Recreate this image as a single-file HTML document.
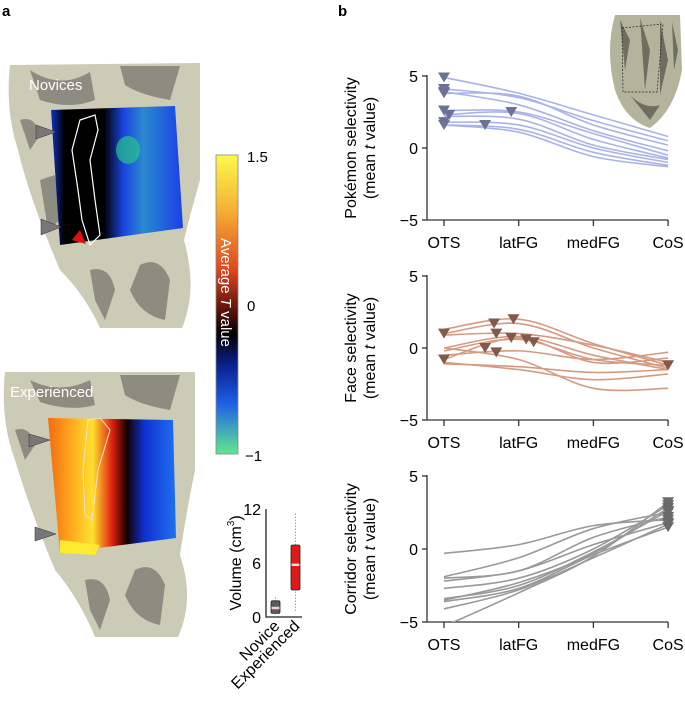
<!DOCTYPE html>
<html><head><meta charset="utf-8"><style>
html,body{margin:0;padding:0;background:#fff;}
svg{display:block;font-family:"Liberation Sans",Arial,sans-serif;}
</style></head><body>
<svg id="fig" width="685" height="710" viewBox="0 0 685 710" xmlns="http://www.w3.org/2000/svg">
<defs>
<linearGradient id="cbar" x1="0" y1="0" x2="0" y2="1">
<stop offset="0" stop-color="#fdf94a"/><stop offset="0.18" stop-color="#f6b236"/><stop offset="0.38" stop-color="#e2481e"/><stop offset="0.52" stop-color="#5a120a"/><stop offset="0.6" stop-color="#000"/><stop offset="0.7" stop-color="#0a1f8a"/><stop offset="0.83" stop-color="#1f5ee6"/><stop offset="1" stop-color="#5fe890"/>
</linearGradient>
<linearGradient id="nov" x1="0" y1="0" x2="1" y2="0">
<stop offset="0" stop-color="#1230c8"/><stop offset="0.1" stop-color="#000"/><stop offset="0.4" stop-color="#000"/><stop offset="0.55" stop-color="#1a44e0"/><stop offset="0.7" stop-color="#2a8ad0"/><stop offset="1" stop-color="#1a40e8"/>
</linearGradient>
<linearGradient id="exp" x1="0" y1="0" x2="1" y2="0">
<stop offset="0" stop-color="#f56a10"/><stop offset="0.2" stop-color="#ffb020"/><stop offset="0.35" stop-color="#ffe030"/><stop offset="0.5" stop-color="#e02010"/><stop offset="0.62" stop-color="#100000"/><stop offset="0.75" stop-color="#1030d0"/><stop offset="1" stop-color="#2070f0"/>
</linearGradient>
<clipPath id="c1"><rect x="427" y="60" width="260" height="162"/></clipPath>
<clipPath id="c2"><rect x="427" y="260" width="260" height="161"/></clipPath>
<clipPath id="c3"><rect x="427" y="460" width="260" height="162"/></clipPath>
</defs>
<text x="2" y="16" font-size="15" font-weight="bold">a</text>
<text x="338" y="16" font-size="15" font-weight="bold">b</text>

<!-- Novice brain -->
<g>
<path d="M10,65 L200,63 L200,180 Q190,215 184,240 Q198,290 182,328 L100,328 Q85,295 60,270 Q30,200 18,150 Q5,110 10,65 Z" fill="#cbcbb6"/>
<path d="M30,70 Q60,90 90,72 L95,100 Q70,110 40,100 Z M120,66 L180,66 L170,100 Q140,95 125,85 Z M140,265 Q160,255 170,280 L165,320 Q140,315 130,290 Z M90,270 Q110,265 115,290 L105,320 L95,300 Z M20,120 Q35,115 40,135 L30,150 Z M40,180 L55,175 L60,220 L48,230 Z" fill="#8c8c80"/>
<path d="M51,110 L175,106 L183,228 L60,245 Z" fill="url(#nov)"/>
<ellipse cx="128" cy="150" rx="12" ry="14" fill="#27c48a" opacity="0.7"/>
<path d="M72,240 L80,230 L86,244 Z" fill="#e21010"/>
<path d="M80,120 L95,115 L98,130 L90,160 L95,200 L100,235 L90,245 L82,220 L78,190 L72,150 Z" fill="none" stroke="#fff" stroke-width="1.2"/>
<text x="29" y="90" font-size="15" fill="#fff">Novices</text>
<polygon points="36,125 56,132 36,139" fill="#777" stroke="#333" stroke-width="0.5"/>
<polygon points="41,219 61,227 41,235" fill="#777" stroke="#333" stroke-width="0.5"/>
</g>
<!-- Experienced brain -->
<g>
<path d="M5,372 L195,372 L195,470 Q185,520 180,555 Q195,600 178,637 L95,637 Q80,600 55,570 Q30,510 15,460 Q0,420 5,372 Z" fill="#cbcbb6"/>
<path d="M30,380 Q60,395 90,380 L95,405 Q70,412 40,402 Z M120,375 L180,375 L170,410 Q140,405 125,395 Z M135,570 Q155,560 165,585 L160,625 Q135,620 125,595 Z M85,580 Q105,575 110,600 L100,630 L90,610 Z M15,430 Q30,425 35,445 L25,460 Z" fill="#8c8c80"/>
<path d="M48,418 L173,420 L176,538 L60,553 Z" fill="url(#exp)"/>
<path d="M60,540 L100,545 L95,555 L60,553 Z" fill="#ffea30"/>
<path d="M88,420 L100,418 L110,430 L98,470 L92,520 L85,515 L83,470 Z" fill="none" stroke="#f4e0d0" stroke-width="1"/>
<text x="10" y="397" font-size="15" fill="#fff">Experienced</text>
<polygon points="29,434 50,440 29,447" fill="#777" stroke="#333" stroke-width="0.5"/>
<polygon points="35,527 56,534 35,541" fill="#777" stroke="#333" stroke-width="0.5"/>
</g>
<!-- colorbar -->
<g>
<rect x="216" y="155" width="22" height="299" fill="url(#cbar)" stroke="#888" stroke-width="0.8"/>
<text x="247" y="162" font-size="15">1.5</text>
<text x="247" y="311" font-size="15">0</text>
<text x="245" y="461" font-size="15">−1</text>
<text transform="translate(221,238) rotate(90)" font-size="15" fill="#fff">Average <tspan font-style="italic">T</tspan> value</text>
</g>
<!-- volume boxplot -->
<g id="box"></g>

<g id="charts"></g>

<!-- inset brain -->
<g>
<path d="M615,15 L680,15 L682,70 Q675,110 650,128 Q625,120 615,90 Q605,50 615,15 Z" fill="#b4b49c"/>
<path d="M620,20 L630,40 L625,70 Z M640,18 L650,50 L645,90 Z M660,20 L668,60 L660,95 Z M672,22 L678,50 L674,70 Z M630,95 Q645,110 660,105 L650,120 Z" fill="#6e6e60"/>
<path d="M622,28 L663,24 L657,92 L623,92 Z" fill="none" stroke="#222" stroke-width="0.7" stroke-dasharray="2,1.5"/>
</g>
<script>
// Pokémon selectivity
var regions = ["OTS","latFG","medFG","CoS"];
var yTicks = [5,0,-5];
var pokeLines = [[4.9,3.8,2.3,0.8],[4.1,3.5,1.9,0.5],[3.8,3.6,1.6,0.2],[3.9,3.0,1.2,-0.2],[2.6,2.5,1.0,-0.5],[2.3,2.4,0.6,-0.7],[2.2,2.0,0.2,-0.8],[1.8,1.6,0.0,-1.0],[1.6,1.3,-0.3,-1.2],[1.6,1.1,-0.6,-1.3]];
var pokeMarkX = [0,0,0,0,0,0.07,0.9,0,0,0.55];
var pokeMarkY = [4.9,4.1,3.8,3.9,2.6,2.3,2.5,1.8,1.6,1.6];
// Face selectivity
var faceLines = [[1.3,2.0,0.3,-1.2],[1.0,1.7,0.0,-1.4],[0.9,1.0,0.2,-1.0],[0.0,0.8,-0.5,-1.5],[-0.2,0.6,-0.8,-1.2],[-0.5,-0.2,-0.8,-0.3],[-0.8,0.7,-1.0,-0.7],[-1.1,-1.3,-1.7,-1.5],[-1.0,-1.5,-2.2,-1.8],[0.0,-0.8,-2.8,-2.8]];
var faceMarkX = [0,0,0.67,0.7,0.93,0.9,1.1,1.2,0.55,0.7,3];
var faceMarkY = [1.0,-0.8,1.7,1.0,2.0,0.7,0.6,0.4,0.0,-0.3,-1.2];
// Corridor selectivity
var corrLines = [[-0.3,0.3,1.6,2.0],[-1.9,-0.6,1.4,2.5],[-2.0,-1.5,0.8,2.2],[-2.2,-1.5,0.3,1.8],[-2.7,-2.0,0.0,3.0],[-3.5,-2.3,-0.3,2.8],[-3.6,-2.7,-0.4,1.5],[-4.1,-2.8,-0.6,1.7],[-3.4,-2.5,-0.2,2.6],[-5.3,-3.0,-0.5,3.2]];
var corrMarkX = [3,3,3,3,3,3,3,3,3,3];
var corrMarkY = [2.0,2.5,2.2,1.8,3.0,2.8,1.5,1.7,2.6,3.2];
// Volume boxplot
var boxGroups = ["Novice","Experienced"];
var boxQ1 = [0.4,3.0];
var boxMed = [1.0,5.8];
var boxQ3 = [1.8,8.0];
var boxMin = [0.3,0.5];
var boxMax = [2.2,11.5];
var boxTicks = [0,6,12];

var NS="http://www.w3.org/2000/svg";
function mk(tag,attrs,parent){var e=document.createElementNS(NS,tag);for(var k in attrs)e.setAttribute(k,attrs[k]);parent.appendChild(e);return e;}
function ts(parent,txt,attrs){var t=mk('tspan',attrs||{},parent);t.textContent=txt;return t;}
var charts=document.getElementById('charts');
var panels=[
 {lines:pokeLines,mx:pokeMarkX,my:pokeMarkY,y5:76,y0:148,lc:"#a9b3e8",mc:"#6c7196",clip:"c1",t1:"Pokémon selectivity",name:"pokemon"},
 {lines:faceLines,mx:faceMarkX,my:faceMarkY,y5:276,y0:348,lc:"#d59b82",mc:"#84584a",clip:"c2",t1:"Face selectivity",name:"face"},
 {lines:corrLines,mx:corrMarkX,my:corrMarkY,y5:476,y0:549,lc:"#999999",mc:"#6a6a6a",clip:"c3",t1:"Corridor selectivity",name:"corridor"}];
var x0=444,dx=74.7,axX=427;
panels.forEach(function(p){
 var g=mk('g',{},charts);
 
 
 var sy=function(v){return p.y0-(v/5)*(p.y0-p.y5);};
 var sx=function(i){return x0+i*dx;};
 var ym=sy(-5);
 var ax=mk('path',{d:'M'+axX+','+(p.y5-1)+' V'+ym+' H'+(sx(3)),fill:'none',stroke:'#333','stroke-width':1.3},g);
 
 
 yTicks.forEach(function(t){
  mk('line',{x1:axX-5,x2:axX,y1:sy(t),y2:sy(t),stroke:'#333','stroke-width':1.3},g);
  var tx=mk('text',{x:axX-9,y:sy(t)+6,'font-size':16,'text-anchor':'end'},g);
  tx.textContent=t<0?'−'+(-t):String(t);
  
  
 });
 regions.forEach(function(r,i){
  mk('line',{x1:sx(i),x2:sx(i),y1:ym,y2:ym+6,stroke:'#333','stroke-width':1.3},g);
  var tx=mk('text',{x:sx(i),y:ym+28,'font-size':16,'text-anchor':'middle'},g);
  tx.textContent=r;
  
  
 });
 var cy=(p.y5+ym)/2;
 var t1=mk('text',{transform:'translate(356,'+cy+') rotate(-90)','font-size':16,'text-anchor':'middle'},g);
 t1.textContent=p.t1;
 
 
 var t2=mk('text',{transform:'translate(375,'+cy+') rotate(-90)','font-size':16,'text-anchor':'middle'},g);
 ts(t2,'(mean ');ts(t2,'t',{'font-style':'italic'});ts(t2,' value)');
 
 
 var lg=mk('g',{'clip-path':'url(#'+p.clip+')'},g);
 p.lines.forEach(function(v){
  var pts=v.map(function(val,i){return [sx(i),sy(val)];});
  var d='M'+pts[0][0]+','+pts[0][1];
  for(var i=0;i<3;i++){
   var pa=pts[Math.max(i-1,0)],pb=pts[i],pc=pts[i+1],pd=pts[Math.min(i+2,3)];
   var c1x=pb[0]+(pc[0]-pa[0])/6,c1y=pb[1]+(pc[1]-pa[1])/6,c2x=pc[0]-(pd[0]-pb[0])/6,c2y=pc[1]-(pd[1]-pb[1])/6;
   d+=' C'+c1x+','+c1y+' '+c2x+','+c2y+' '+pc[0]+','+pc[1];
  }
  var ln=mk('path',{d:d,fill:'none',stroke:p.lc,'stroke-width':1.6},lg);
  
  
 });
 p.mx.forEach(function(mx,i){
  var x=sx(mx),y=sy(p.my[i]);
  var m=mk('polygon',{points:(x-6)+','+(y-5)+' '+(x+6)+','+(y-5)+' '+x+','+(y+5),fill:p.mc},g);
  
  
 });
});
// boxplot
(function(){
 var g=document.getElementById('box');
 var by=function(v){return 617-(v/12)*108;};
 var bx=[275.5,295.5];
 var a=mk('path',{d:'M266,509 V617 H302',fill:'none',stroke:'#222','stroke-width':1.3},g);
 
 
 boxTicks.forEach(function(t){
  var tx=mk('text',{x:261,y:by(t)+6,'font-size':16,'text-anchor':'end'},g);
  tx.textContent=String(t);
  
  
 });
 var tt=mk('text',{transform:'translate(241,563) rotate(-90)','font-size':16,'text-anchor':'middle'},g);
 ts(tt,'Volume (cm');ts(tt,'3',{'font-size':'10',dy:'-7'});ts(tt,')',{dy:'7'});
 
 
 var fills=['#5a5a5a','#e01818'];
 boxGroups.forEach(function(name,i){
  var w=mk('line',{x1:bx[i],x2:bx[i],y1:by(boxMax[i]),y2:by(boxMin[i]),stroke:'#888','stroke-width':0.8,'stroke-dasharray':'1.5,1.5'},g);
  
  
  var r=mk('rect',{x:bx[i]-4.5,y:by(boxQ3[i]),width:9,height:by(boxQ1[i])-by(boxQ3[i]),rx:1.5,fill:fills[i],stroke:'#222','stroke-width':0.8},g);
  
  
  var m=mk('line',{x1:bx[i]-4,x2:bx[i]+4,y1:by(boxMed[i]),y2:by(boxMed[i]),stroke:'#f4d0d0','stroke-width':2.5},g);
  
  
  var l=mk('text',{transform:'translate('+(bx[i]+5)+',627) rotate(-45)','font-size':16,'text-anchor':'end'},g);
  l.textContent=name;
  
  
 });
})();
</script>
</svg>
</body></html>
